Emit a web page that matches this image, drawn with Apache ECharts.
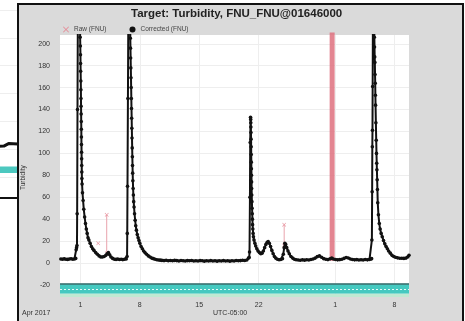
<!DOCTYPE html>
<html>
<head>
<meta charset="utf-8">
<script src="https://cdn.jsdelivr.net/npm/echarts@6/dist/echarts.min.js"></script>
<style>
  html, body { margin: 0; padding: 0; background: #fff; overflow: hidden; }
  #bg { position: absolute; left: -100px; top: 0; width: 118px; height: 197px; border-bottom: 2px solid #111; background: #fff; }
  #panel { position: absolute; left: 17px; top: 3px; width: 443px; height: 340px; border: 2px solid #111; background: #dadada; }
  #chart { position: absolute; left: 0; top: 0; width: 465px; height: 321px; }
</style>
</head>
<body>
<div id="bg"></div>
<div id="panel"></div>
<div id="chart"></div>
<script>
// x = days since 2017-03-31 (1 = Apr 1, 31 = May 1), y = FNU
const xTickDays = [1, 8, 15, 22, 31, 38];
const xTickLabels = ['1', '8', '15', '22', '1', '8'];
const yTicks = [-20, 0, 20, 40, 60, 80, 100, 120, 140, 160, 180, 200];

// corrected (FNU)
const corrBase0 = [[-1.3, 3.6], [-1.1, 3.4], [-0.9, 3.8], [-0.7, 3.5], [-0.5, 3.3], [-0.3, 3.6], [-0.1, 3.9], [0.1, 3.5], [0.3, 3.7], [0.45, 4.2]];
const corrSpike1 = [[0.5, 12], [0.55, 14], [0.6, 16], [0.62, 45], [0.66, 140], [0.72, 260], [0.8, 330], [0.9, 285],
  [0.97, 206], [0.99, 198], [1.01, 190], [1.02, 182], [1.03, 175], [1.05, 166], [1.06, 158], [1.07, 150], [1.08, 143],
  [1.09, 136], [1.1, 129], [1.11, 122], [1.12, 115], [1.13, 108], [1.14, 101], [1.15, 95], [1.16, 89], [1.17, 83],
  [1.18, 77], [1.2, 72], [1.25, 64], [1.32, 57], [1.4, 49], [1.5, 42], [1.6, 36], [1.7, 31], [1.8, 27], [1.9, 23],
  [2.0, 21], [2.15, 18], [2.3, 15], [2.45, 13], [2.6, 11.5], [2.8, 9.5], [3.0, 8], [3.2, 6.5], [3.4, 5.5], [3.6, 5.5],
  [3.8, 6], [4.0, 7], [4.15, 8.5], [4.3, 9.5], [4.45, 7.5], [4.6, 5.5], [4.8, 4.2], [5.0, 3.5], [5.2, 3.3], [5.4, 3.6],
  [5.6, 3.2], [5.8, 3.5], [6.0, 3.1], [6.2, 3.4], [6.4, 3.6]];
const corrSpike2 = [[6.5, 6], [6.52, 27], [6.55, 70], [6.6, 150], [6.68, 280], [6.75, 320], [6.85, 260],
  [6.88, 205], [6.9, 196], [6.92, 187], [6.94, 178], [6.96, 169], [6.98, 160], [7.0, 150], [7.02, 141], [7.04, 132],
  [7.06, 123], [7.08, 114], [7.1, 105], [7.12, 97], [7.14, 89], [7.16, 82], [7.18, 75], [7.21, 68], [7.24, 62],
  [7.28, 56], [7.32, 51], [7.38, 45], [7.45, 39], [7.52, 34], [7.6, 30], [7.7, 26], [7.8, 23], [7.9, 20.5], [8.0, 18],
  [8.15, 15], [8.3, 13], [8.45, 11], [8.6, 9.5], [8.8, 8], [9.0, 6.5], [9.2, 5.5], [9.4, 4.5], [9.6, 4], [9.8, 3.5],
  [10.0, 3], [10.2, 2.8]];
const corrBase1 = [[10.4, 2.6], [10.6, 2.4], [10.85, 2.2], [11.1, 2.5], [11.35, 2.1], [11.6, 2.3], [11.85, 2.0], [12.1, 2.4],
  [12.35, 2.2], [12.6, 1.9], [12.85, 2.3], [13.1, 2.1], [13.35, 1.8], [13.6, 2.2], [13.85, 2.0], [14.1, 2.3], [14.35, 1.9],
  [14.6, 2.1], [14.85, 1.8], [15.1, 2.2], [15.35, 2.0], [15.6, 1.7], [15.85, 2.1], [16.1, 1.9], [16.35, 2.2], [16.6, 1.8],
  [16.85, 2.0], [17.1, 1.7], [17.35, 2.1], [17.6, 1.9], [17.85, 2.2], [18.1, 1.8], [18.35, 2.0], [18.6, 1.7], [18.85, 2.1],
  [19.1, 1.9], [19.35, 2.3], [19.6, 2.0], [19.85, 2.2], [20.1, 2.5], [20.35, 2.3], [20.6, 2.8], [20.8, 4.5]];
const corrSpike3 = [[20.88, 5], [20.92, 10], [20.97, 60], [21.0, 110], [21.04, 133], [21.06, 131], [21.07, 128],
  [21.08, 124], [21.09, 119], [21.1, 113], [21.11, 106], [21.12, 99], [21.13, 92], [21.14, 86], [21.15, 80], [21.16, 74],
  [21.17, 68], [21.18, 62], [21.2, 56], [21.22, 50], [21.24, 45], [21.26, 40], [21.28, 35], [21.31, 31], [21.34, 27],
  [21.38, 24], [21.45, 21], [21.55, 18], [21.65, 15.5], [21.78, 13], [21.92, 11], [22.08, 9.5], [22.25, 8.5], [22.4, 9],
  [22.55, 11], [22.7, 14], [22.85, 17], [23.0, 19], [23.12, 19.5], [23.25, 18], [23.4, 15], [23.55, 11.5], [23.7, 8.5],
  [23.85, 6], [24.0, 4.5], [24.2, 3.5], [24.4, 3], [24.6, 3.2], [24.8, 4], [24.9, 8], [25.0, 14], [25.08, 18],
  [25.18, 17], [25.3, 14], [25.45, 11], [25.6, 8.5], [25.8, 6], [26.0, 4.5], [26.2, 3.5], [26.4, 3]];
const corrBase2 = [[26.65, 2.8], [26.9, 2.5], [27.15, 2.9], [27.4, 2.6], [27.65, 3.0], [27.9, 2.7], [28.15, 3.2], [28.4, 3.6],
  [28.65, 4.5], [28.9, 5.8], [29.15, 6.5], [29.4, 5.2], [29.65, 4.0], [29.9, 3.4], [30.15, 3.1], [30.4, 3.8], [30.6, 4.5],
  [30.8, 3.6], [31.05, 3.2], [31.3, 2.9], [31.55, 3.1], [31.8, 3.5], [32.05, 4.2], [32.3, 5.0], [32.55, 4.6], [32.8, 3.7],
  [33.05, 3.2], [33.3, 2.9], [33.55, 3.1], [33.8, 2.7], [34.05, 3.0], [34.3, 2.8], [34.55, 3.2], [34.8, 2.9], [35.05, 3.3],
  [35.25, 3.8]];
const corrSpike4 = [[35.3, 4], [35.33, 21], [35.36, 65], [35.38, 106], [35.4, 121], [35.42, 161], [35.46, 240], [35.52, 310],
  [35.58, 260], [35.62, 206], [35.64, 197], [35.66, 188], [35.68, 183], [35.7, 172], [35.72, 164], [35.74, 153],
  [35.76, 144], [35.8, 128], [35.84, 112], [35.87, 100], [35.9, 91], [35.92, 85], [35.95, 76], [35.98, 67], [36.02, 55],
  [36.1, 44], [36.2, 36], [36.3, 31], [36.42, 27], [36.55, 24], [36.7, 20.5], [36.85, 17.5], [37.0, 15], [37.15, 13],
  [37.3, 11], [37.5, 9], [37.7, 7], [37.9, 6], [38.1, 5.2], [38.35, 4.7], [38.6, 4.4], [38.85, 4.3], [39.1, 4.2],
  [39.35, 4.5], [39.55, 5.5], [39.7, 7]];

// raw (FNU) where it differs from corrected; null breaks the line
const rawThin = [[3.1, 18], [3.1, null], [4.1, 9], [4.1, 44], [4.1, null], [25.0, 16], [25.0, 35]];
const rawBar = [[30.65, 2], [30.65, 260]];

// grade band under the data
const bandTop = -19, bandMid = -23.5, bandBottom = -28, bandFloor = -31;

// background chart peeking out at the left edge
const bgTrace = [[0, 1.0], [2, 1.1], [4, 0.9], [6, 1.0], [8, 1.0], [8.8, 1.1], [9.2, 2.0], [10, 1.9]];

const corrected = [].concat(corrBase0, corrSpike1, corrSpike2, corrBase1, corrSpike3, corrBase2, corrSpike4);
const xIcon = 'path://M0,1L1,0L5,4L9,0L10,1L6,5L10,9L9,10L5,6L1,10L0,9L4,5Z';
const font = 'Liberation Sans, Arial, sans-serif';

const bgChart = echarts.init(document.getElementById('bg'));
bgChart.setOption({
  animation: false,
  grid: { left: 0, right: 0, top: 10, bottom: 20 },
  xAxis: { type: 'value', min: 0, max: 10, show: false },
  yAxis: {
    type: 'value', min: -10, max: 50, interval: 10,
    axisLabel: { show: false }, axisLine: { show: false }, axisTick: { show: false },
    splitLine: { lineStyle: { color: '#eee' } }
  },
  series: [{
    type: 'line', data: bgTrace, symbol: 'none', lineStyle: { color: '#111', width: 3 },
    markArea: { silent: true, itemStyle: { color: '#4cc8bf' }, data: [[{ yAxis: -6.2 }, { yAxis: -8.6 }]] }
  }]
});

const chart = echarts.init(document.getElementById('chart'));
chart.setOption({
  animation: false,
  title: {
    text: 'Target: Turbidity, FNU_FNU@01646000',
    left: 126, top: 3,
    textStyle: { fontSize: 11.5, fontWeight: 'bold', color: '#222', fontFamily: font }
  },
  legend: {
    left: 58, top: 21, itemWidth: 6, itemHeight: 6, itemGap: 23,
    textStyle: { fontSize: 6.5, color: '#444', fontFamily: font },
    data: [
      { name: 'Raw (FNU)', icon: xIcon, itemStyle: { color: '#e58a96' } },
      { name: 'Corrected (FNU)', icon: 'circle', itemStyle: { color: '#111' } }
    ]
  },
  grid: { left: 60, right: 56, top: 35, bottom: 24, show: true, backgroundColor: '#fff', borderWidth: 0 },
  xAxis: {
    type: 'value', min: -1.4, max: 39.7,
    axisLine: { show: false },
    axisTick: { show: false, customValues: xTickDays },
    axisLabel: {
      customValues: xTickDays, margin: 5, fontSize: 7, color: '#333', fontFamily: font,
      formatter: (v) => xTickLabels[xTickDays.indexOf(v)]
    },
    splitLine: { show: true, lineStyle: { color: '#eeeeee' } }
  },
  yAxis: {
    type: 'value', min: bandFloor, max: 208,
    axisLine: { show: false },
    axisTick: { show: false, customValues: yTicks },
    axisLabel: { customValues: yTicks, margin: 10, fontSize: 7, color: '#333', fontFamily: font },
    splitLine: { show: true, lineStyle: { color: '#eeeeee' } }
  },
  graphic: [
    { type: 'text', left: 22, top: 310, style: { text: 'Apr 2017', fontSize: 7, fill: '#333', fontFamily: font } },
    { type: 'text', left: 213, top: 310, style: { text: 'UTC-05:00', fontSize: 7, fill: '#333', fontFamily: font } },
    { type: 'text', x: 20, y: 190, rotation: Math.PI / 2, style: { text: 'Turbidity', fontSize: 6.5, fill: '#333', fontFamily: font } }
  ],
  series: [
    {
      name: 'Raw (FNU)', type: 'line', data: rawThin, connectNulls: false,
      symbol: xIcon, symbolSize: 4, itemStyle: { color: '#e58a96' },
      lineStyle: { color: '#e9a3ad', width: 1 }, z: 2
    },
    {
      name: 'Raw (FNU)', type: 'line', data: rawBar, symbol: 'none',
      lineStyle: { color: 'rgba(222,112,126,0.85)', width: 5 }, z: 2
    },
    {
      name: 'Corrected (FNU)', type: 'line', data: corrected,
      symbol: 'circle', symbolSize: 3.6, showAllSymbol: true,
      itemStyle: { color: '#111' }, lineStyle: { color: '#111', width: 2 }, z: 3,
      markArea: {
        silent: true,
        data: [
          [{ yAxis: bandTop, itemStyle: { color: '#45c9c0' } }, { yAxis: bandBottom }],
          [{ yAxis: bandBottom, itemStyle: { color: '#bfe9d2' } }, { yAxis: bandFloor }]
        ]
      },
      markLine: {
        silent: true, symbol: 'none', label: { show: false },
        data: [
          { yAxis: bandTop, lineStyle: { color: '#3b6b6b', width: 1.5, type: 'solid' } },
          { yAxis: bandMid, lineStyle: { color: '#e8fbfa', width: 1, type: [2, 2] } }
        ]
      }
    }
  ]
});
</script>
</body>
</html>
